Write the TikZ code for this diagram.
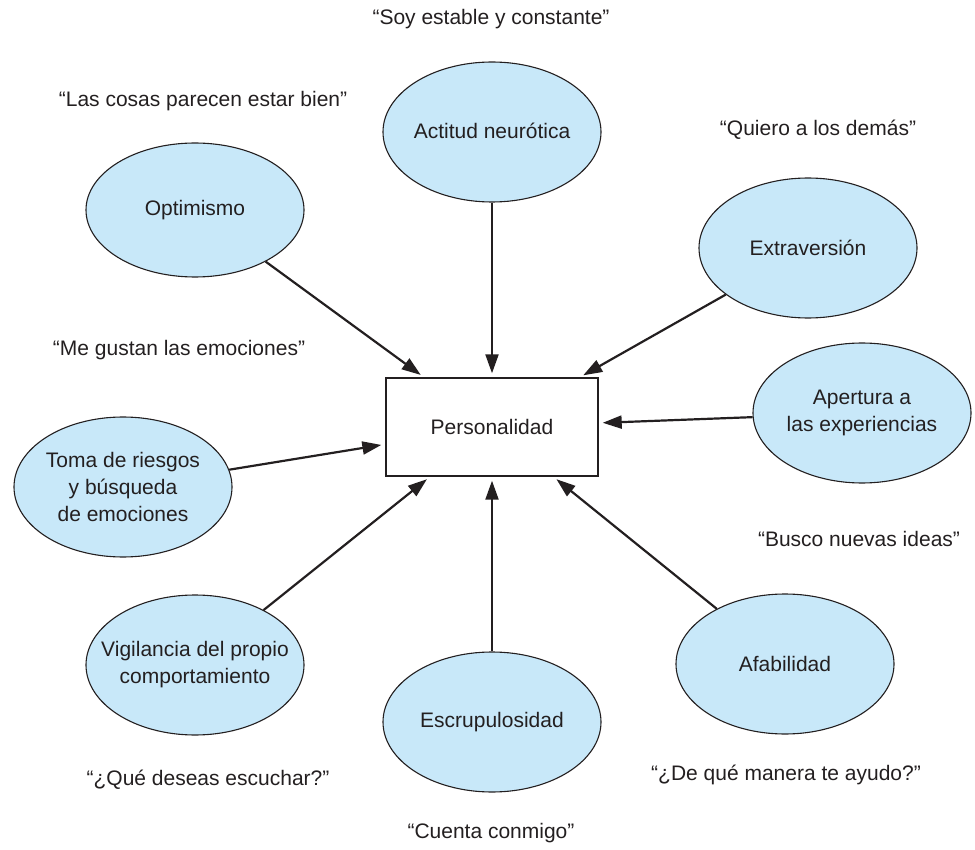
\documentclass[tikz,border=0pt]{standalone}
\usepackage{fontspec}
\setmainfont{Liberation Sans}
\usetikzlibrary{shapes.geometric,arrows.meta}
\definecolor{traitfill}{RGB}{200,232,249}
\definecolor{inkline}{RGB}{35,31,32}
\begin{document}
\begin{tikzpicture}[x=1pt,y=-1pt,
  every node/.style={font=\fontsize{21}{27}\selectfont, text=inkline},
  trait/.style={ellipse, draw=inkline, line width=1.1pt, fill=traitfill,
    minimum width=218pt, minimum height=140pt, inner sep=-40pt, align=center},
  core/.style={rectangle, draw=inkline, line width=1.4pt, fill=white,
    minimum width=212pt, minimum height=98pt},
  quote/.style={align=center},
  link/.style={draw=inkline, line width=2.2pt, shorten >=4pt,
    -{Triangle[length=19pt,width=13pt]}}]
\useasboundingbox (0,0) rectangle (975,850);

% central concept
\node[core] (pers) at (492,427) {Personalidad};

% the eight traits
\node[trait] (neuro) at (492,132) {\raisebox{3pt}{Actitud neurótica}};
\node[trait, minimum height=134pt] (optim) at (195,210) {\raisebox{2pt}{Optimismo}};
\node[trait] (extra) at (808,248) {Extraversión};
\node[trait] (apert) at (862,413) {Apertura a\\las experiencias};
\node[trait] (riesg) at (123,487) {Toma de riesgos\\y búsqueda\\de emociones};
\node[trait] (vigil) at (195,665) {Vigilancia del propio\\comportamiento};
\node[trait] (escru) at (492,722) {Escrupulosidad};
\node[trait] (afab)  at (785,664) {Afabilidad};

% sample statements
\node[quote] (q1) at (491,19)  {“Soy estable y constante”};
\node[quote] (q2) at (203,101) {“Las cosas parecen estar bien”};
\node[quote] (q3) at (818,130) {“Quiero a los demás”};
\node[quote] (q4) at (179,350) {“Me gustan las emociones”};
\node[quote] (q5) at (859,539) {“Busco nuevas ideas”};
\node[quote] (q6) at (208,780) {“¿Qué deseas escuchar?”};
\node[quote] (q7) at (786,775) {“¿De qué manera te ayudo?”};
\node[quote] (q8) at (491,833) {“Cuenta conmigo”};

% arrows into the central concept
\foreach \t in {neuro,optim,extra,apert,riesg,vigil,escru,afab}
  \draw[link] (\t) -- (pers);
\end{tikzpicture}
\end{document}
